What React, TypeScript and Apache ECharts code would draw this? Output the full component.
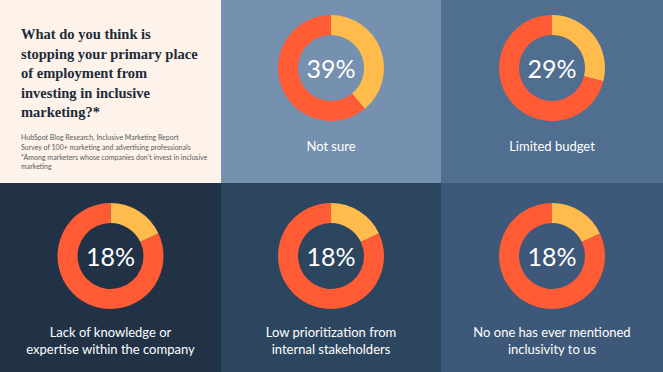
import React, { useEffect, useRef } from "react";
import * as echarts from "echarts";

const categories = [
  "Not sure",
  "Limited budget",
  "Lack of knowledge or\nexpertise within the company",
  "Low prioritization from\ninternal stakeholders",
  "No one has ever mentioned\ninclusivity to us",
];
const percentValues = [39, 29, 18, 18, 18];
const panelColors = ["#7591AF", "#4F6E90", "#213247", "#2D4660", "#3D5878"];
const titleLines = [
  "What do you think is",
  "stopping your primary place",
  "of employment from",
  "investing in inclusive",
  "marketing?*",
];
const sourceLines = [
  "HubSpot Blog Research, Inclusive Marketing Report",
  "Survey of 100+ marketing and advertising professionals",
  "*Among marketers whose companies don't invest in inclusive",
  "marketing",
];

const W = 663;
const H = 372;
const colX = [0, 221, 441, 663];
const rowY = [0, 183, 372];

export default function App() {
  const ref = useRef<HTMLDivElement>(null);
  useEffect(() => {
    document.body.style.margin = "0";
    if (!ref.current) return;
    const chart = echarts.init(ref.current, null, { renderer: "svg" });
    const sans = "Lato, 'Noto Sans', sans-serif";

    const graphics: any[] = [];
    graphics.push({
      type: "rect",
      z: -10,
      shape: { x: 0, y: 0, width: colX[1], height: rowY[1] },
      style: { fill: "#FDF3EA" },
    });
    const cells: { x: number; y: number; w: number; h: number }[] = [
      { x: colX[1], y: rowY[0], w: colX[2] - colX[1], h: rowY[1] },
      { x: colX[2], y: rowY[0], w: colX[3] - colX[2], h: rowY[1] },
      { x: colX[0], y: rowY[1], w: colX[1], h: rowY[2] - rowY[1] },
      { x: colX[1], y: rowY[1], w: colX[2] - colX[1], h: rowY[2] - rowY[1] },
      { x: colX[2], y: rowY[1], w: colX[3] - colX[2], h: rowY[2] - rowY[1] },
    ];
    cells.forEach((c, i) => {
      graphics.push({
        type: "rect",
        z: -10,
        shape: { x: c.x, y: c.y, width: c.w, height: c.h },
        style: { fill: panelColors[i] },
      });
    });
    titleLines.forEach((t, i) => {
      graphics.push({
        type: "text",
        x: 21,
        y: 34 + i * 19.5,
        style: {
          text: t,
          fill: "#1E2B38",
          font: "bold 14.5px 'Liberation Serif', serif",
          textVerticalAlign: "middle",
        },
      });
    });
    sourceLines.forEach((t, i) => {
      graphics.push({
        type: "text",
        x: 21,
        y: 137 + i * 9.8,
        style: {
          text: t,
          fill: "#5A5A5A",
          font: "7px " + sans,
          textVerticalAlign: "middle",
        },
      });
    });

    const series: any[] = [];
    cells.forEach((c, i) => {
      const cx = c.x + c.w / 2;
      const cy = c.y + (i < 2 ? 68 : 73);
      series.push({
        type: "pie",
        center: [cx, cy],
        radius: [33, 53],
        startAngle: 90,
        clockwise: true,
        silent: true,
        labelLine: { show: false },
        label: {
          show: true,
          position: "center",
          formatter: () => percentValues[i] + "%",
          color: "#FFFFFF",
          fontSize: 25,
          fontFamily: sans,
          fontWeight: 400,
        },
        emphasis: { disabled: true },
        itemStyle: { borderWidth: 0 },
        data: [
          { value: percentValues[i], name: categories[i], itemStyle: { color: "#FFBC4C" } },
          { value: 100 - percentValues[i], name: "other", itemStyle: { color: "#FF5C35" }, label: { show: false } },
        ],
      });
      const lines = categories[i].split("\n");
      const ly = i < 2 ? 146 : 332;
      lines.forEach((l, j) => {
        graphics.push({
          type: "text",
          x: cx,
          y: ly + j * 17,
          style: {
            text: l,
            fill: "#FFFFFF",
            font: "13px " + sans,
            textAlign: "center",
            textVerticalAlign: "middle",
          },
        });
      });
    });

    chart.setOption({
      animation: false,
      graphic: graphics,
      series,
    });
    return () => chart.dispose();
  }, []);
  return <div ref={ref} style={{ width: W, height: H }} />;
}
